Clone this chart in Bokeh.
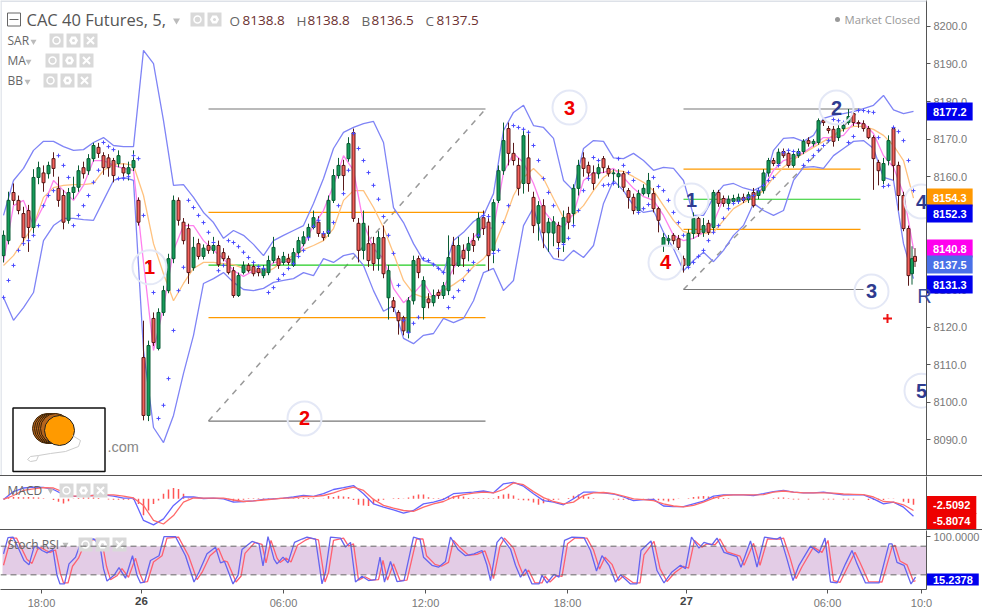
from bokeh.plotting import figure
from bokeh.layouts import column
from bokeh.models import Range1d, Label, FixedTicker, Spacer, Span, NumeralTickFormatter
from bokeh.embed import file_html
from bokeh.resources import INLINE

opens = [8139,8143,8155.8,8153.7,8150.2,8151,8146.5,8159.8,8161,8160.8,8164.8,8156.9,8155,8148.4,8155.8,8157.2,8162.4,8161.6,8164.8,8167.8,
 8165.6,8165,8164.3,8163.5,8162.4,8160.8,8162.4,8153.7,8111.9,8096.5,8122.3,8114.3,8123.9,8129.7,8138.2,8153.7,8147.9,8146.2,8135.8,8142.2,
 8138.8,8141.7,8140.4,8141.7,8139.8,8138.2,8135,8128.4,8134.5,8136.4,8136.1,8135.6,8133.7,8134.5,8137.7,8138.2,8137.2,8138.2,8136.4,8139.8,
 8142.2,8144,8146.5,8147.9,8144.9,8144.9,8153.7,8160.3,8163,8164.8,8171.7,8147.6,8140.4,8142.2,8142.2,8138.2,8143.8,8127.8,8127,8123.9,
 8122.5,8118.5,8127,8138.2,8125.2,8127.5,8126.5,8129.2,8128.4,8129.7,8141.7,8136.4,8140.4,8140.4,8143,8143.8,8149.1,8147.9,8140.4,8153.7,
 8161.6,8172.8,8166.2,8163,8158.2,8165,8154.5,8147.6,8152.3,8145.1,8145,8147,8142.5,8150.2,8150.2,8156.9,8165,8163,8161,8160.8,
 8164.8,8162.2,8160.8,8160,8160.8,8156.3,8154.5,8151,8155.5,8155.5,8155.5,8151.5,8141.7,8143,8144.4,8143.5,8138.2,8136.4,8144.9,8148.9,
 8145.2,8147.6,8146.5,8155.8,8154.2,8152.9,8153.4,8153.4,8154.5,8153.9,8155.8,8155,8156.3,8161,8164.3,8163.5,8166.7,8166.2,8163,8165.6,
 8166.7,8169.6,8168.8,8169.1,8174.9,8172.8,8172.6,8170.4,8172.8,8174.4,8176.8,8174.4,8174.1,8172.8,8170.4,8163.8,8159,8164.3,8172.8,8163,
 8155,8146.2,8134.2,8138.8]
closes = [8144.4,8153.7,8153.7,8151,8143.8,8146.5,8159.8,8162.4,8158.4,8163,8162.2,8153.7,8147.9,8155.8,8157.2,8161.6,8160.8,8164.8,8168.3,8166.2,
 8162.4,8162.4,8160.3,8165.6,8161,8162.4,8164.3,8147.9,8096.5,8115.1,8115.9,8123.9,8129.7,8138.2,8153.7,8148.4,8143,8134.5,8141.2,8138.8,
 8141,8140.4,8141.7,8136.6,8138.2,8134.5,8128.4,8133.7,8136.4,8135,8134.2,8134.5,8135.6,8137.7,8141.2,8136.4,8138.8,8137.2,8139.8,8143,
 8144,8146.5,8149.1,8144.9,8143.8,8153.7,8160.3,8163,8160.3,8168.8,8148.9,8140.4,8147.6,8137.7,8136.9,8143.8,8134.2,8135,8125.2,8121.7,
 8119,8127,8137.7,8134.5,8132.4,8126.5,8128.4,8128.4,8131,8138.5,8136.4,8141.7,8138.2,8142.2,8141.7,8148.9,8146.2,8139,8153.1,8161.6,
 8169.6,8166.2,8164.3,8156.9,8170.9,8158.2,8147,8152.3,8145.1,8147.9,8148,8142.5,8149.1,8147.9,8156.9,8163,8162.2,8161,8158.2,8162.4,
 8162.4,8160.8,8161,8160.8,8157.2,8154.5,8151,8155.5,8156.9,8159,8151.5,8148.4,8143.8,8143.5,8143,8141.2,8136.4,8144.9,8148.9,8144.9,
 8147,8145.2,8155.8,8152.9,8152.9,8154,8154.2,8154.5,8153.7,8155.2,8152.3,8156.3,8161,8164.3,8163.5,8166.5,8165.6,8163,8165.9,8166.7,
 8169.4,8168.8,8169.4,8174.9,8174.4,8172.3,8169.4,8172.8,8173.6,8176,8174.4,8174.1,8172.8,8170.4,8164.8,8161.6,8163.5,8169.6,8163,8155,
 8146.2,8133.7,8138.2,8137.5]
highs = [8145.7,8156,8158.2,8155,8152,8152.5,8162,8164,8163,8164,8166.5,8160,8156.5,8157,8160,8163,8164,8166,8169,8169,
 8166.5,8166,8165,8167,8163.5,8164,8167,8154.5,8121.7,8116.4,8123.9,8125,8131,8139.5,8155,8154.5,8149,8147.5,8144,8143.5,
 8142,8143,8144,8143,8141,8139,8136,8134.5,8137.5,8137,8137,8136.5,8136.5,8139,8144,8139,8140,8139.5,8141,8144,
 8145.5,8147.5,8151,8149.5,8145.5,8155,8162,8165,8164.5,8170.5,8172.8,8149,8151,8147,8144,8145.5,8147,8136.5,8128,8124.5,
 8123,8128,8139,8139,8133.5,8129,8130,8130,8132,8144.4,8144,8144,8142,8144,8145,8150.5,8151,8150,8154,8163,
 8174.4,8174.4,8169,8165,8172.3,8172,8156,8153.5,8154,8149,8149.5,8148,8151,8152,8158,8164.5,8166.5,8164,8163,8163.5,
 8165.5,8163,8162,8162,8161.5,8157,8155.5,8156.5,8158,8161,8157,8152,8145,8144.5,8145,8144.5,8139,8146,8150.5,8149.5,
 8149,8148.5,8156.5,8156.5,8155,8155,8155.2,8155.5,8155.5,8156,8157,8157,8162,8165,8165,8167.5,8167.5,8167,8167,8167.5,
 8170,8170.5,8170,8175.5,8175.5,8173.5,8173.5,8174,8174.5,8178,8178,8175,8175,8173.5,8171,8164.5,8165,8171,8173.5,8164,
 8156,8147,8141.5,8141]
lows = [8137.2,8142,8152.5,8150,8141.7,8140,8145,8158,8156,8159.5,8160,8152,8146,8147.5,8154,8156,8159.5,8160.5,8164,8165,
 8160.5,8160,8158.5,8162.5,8160,8159,8161.5,8147,8095.2,8095,8115,8113.8,8123,8129,8137,8147,8142,8131.5,8135,8138,
 8138,8139.5,8139.5,8136,8137.5,8134,8127.8,8128,8134,8134.5,8133.5,8133.5,8133,8133.8,8137,8135.5,8136.5,8136.5,8136,8139.2,
 8141.5,8143,8146,8144,8143,8144,8153,8159.5,8156.3,8164,8148,8137.2,8138,8136,8135,8135,8133,8122,8124,8118,
 8117.8,8117,8126,8133,8122,8125,8125.5,8127.5,8127.5,8128.5,8134,8136,8136,8137.5,8140,8143,8144.5,8135,8137,8153,
 8160.5,8163,8163,8155,8155.5,8156,8145,8143,8141,8140,8141.5,8138.5,8140,8146,8147,8155,8160,8159,8156.5,8159.5,
 8161,8160,8158,8157,8156,8151.5,8150,8150,8155,8154.5,8150.5,8145.2,8140,8141.5,8142,8140.5,8134.5,8135.5,8143.5,8144,
 8144,8144.5,8145.5,8152,8152,8152,8152.5,8152.8,8153,8153,8151.8,8154,8155.5,8160,8162.8,8163,8165,8162.4,8162.4,8165,
 8166,8168,8168,8168.5,8173.5,8171.5,8168,8169.5,8172,8173.8,8173.5,8173,8172,8170,8156.5,8157.7,8158,8163,8159,8151,
 8145.5,8131,8131.3,8136]
candle_x = [float(i) for i in range(182)] + [181.7, 182.3]

bb_upper = [8149.7,8159,8162.2,8167,8169.4,8169.4,8168,8167,8167.2,8169.1,8170.4,8168.3,8168,8168,8193.6,8190.1,8174.9,8157.7,8157.9,8154.5,
 8150.5,8147.8,8143.6,8145.7,8144.4,8142,8139,8143,8144.4,8145.7,8147,8152.9,8159.5,8167.5,8171.8,8173.1,8174.1,8174.7,8169.1,8151.8,
 8147.8,8142.2,8137.7,8136.9,8134.5,8143,8145.2,8148.1,8149.7,8155.5,8172.3,8177.1,8179,8173.6,8173.1,8170.2,8159,8156.3,8167.5,8169.6,
 8169.4,8165,8164.8,8166.2,8164.3,8161.7,8162.5,8162.2,8159,8149.7,8149.7,8154.5,8157.7,8158.2,8157,8156.3,8157.7,8167,8170.2,8170.4,
 8169.4,8171,8175.5,8176.3,8176.8,8177.3,8178.1,8179,8181.6,8177.8,8176.8,8177.4]
bb_lower = [8127.9,8121.8,8125.2,8129.2,8143,8147,8148.9,8148.9,8148.6,8148.4,8153.7,8159,8159.8,8159,8113.8,8093.3,8089.3,8096.5,8107.7,8117.8,
 8131.6,8132.9,8134.5,8131.9,8130,8129.7,8130.3,8131.9,8132.4,8132.9,8134.5,8133.7,8138.2,8137.2,8139,8139.6,8136.4,8129.7,8124.2,8125.7,
 8117,8115.6,8117.8,8118.3,8122.3,8121.2,8122.3,8127,8134.5,8135.6,8129.7,8132.4,8147,8151.8,8142.2,8138.2,8137.7,8140.4,8138.5,8141.7,
 8152.9,8159,8156.3,8152.3,8150.5,8151,8145.2,8140.9,8135,8137.7,8139.9,8137.4,8140.4,8144.4,8147,8152.9,8151,8149.7,8151,8159,
 8162.5,8162.7,8162.2,8165.6,8167.5,8169.4,8169.6,8167.5,8159.8,8159,8142.2,8132.9]
ma_fast = [8137.2,8152.3,8153.7,8147,8152.3,8159,8156.3,8153.7,8157.7,8164.3,8164.3,8163,8162.2,8161.7,8137.2,8113.8,8125.2,8140.4,8147,8147,
 8143,8140.4,8138.2,8135,8133.5,8135,8134.5,8137.2,8137.2,8138.2,8141.7,8147,8151,8157.7,8165.6,8161.7,8147.6,8140.9,8138.2,8130.3,
 8126.5,8128.9,8131.9,8127.6,8130.5,8135.6,8139.9,8143.8,8146.8,8146.2,8161.1,8166.2,8163.8,8158.2,8151,8147.8,8146.5,8150.2,8159,8161.1,
 8161.1,8162.2,8159.8,8156.9,8154.7,8153.7,8149.7,8144.4,8143,8143.6,8145.2,8147.8,8154.2,8153.7,8154.2,8155,8157.1,8161.7,8164.3,8165.1,
 8166.4,8168.3,8170.4,8170.4,8171,8174.2,8174.2,8171.5,8165.6,8162.5,8155.5,8140.8]
ma_slow = [8136.4,8139,8143,8147,8154.5,8157.1,8157.7,8157.9,8157.9,8158.2,8161.7,8163.3,8163.5,8163,8155,8142.2,8134.2,8127,8131.6,8135.6,
 8137.2,8137.2,8136.9,8136.6,8135.6,8135,8134.2,8135.6,8137.7,8139,8140.6,8141.7,8143,8146.2,8153.7,8156.3,8156.3,8151.8,8146.5,8139.6,
 8132.4,8128.9,8127.9,8128.1,8129.7,8131.3,8133.2,8136.1,8138.2,8141.2,8147.6,8155,8159.8,8162.2,8159.5,8154.2,8149.1,8149.7,8152.3,8156.3,
 8159.8,8161.7,8161.4,8160,8158.5,8156.3,8152.3,8148.4,8145.4,8144.9,8144.9,8145.2,8148.4,8151.5,8153.1,8154.5,8156.3,8159.8,8162.5,8164.6,
 8166.2,8167.8,8169.4,8171,8172.6,8173.4,8173.4,8172.6,8171,8168.3,8164.3,8154.3]
sar = [8127.9,8132.4,8136.4,8140.4,8142.2,8143,8144.4,8147,8152.3,8155,8156.3,8165.6,8163,8159.8,8147,8149.7,8152.3,8155,8158.5,8161.7,
 8169.1,8168,8167.2,8159.5,8159.5,8160,8165.6,8164.8,8149.7,8137.2,8129.2,8095.7,8099.2,8106.3,8119.1,8129.7,8135.9,8153.7,8151.8,8149.7,
 8147.8,8145.2,8142.5,8135,8136.4,8143,8142.5,8141.4,8139.9,8138.5,8137.2,8136.1,8135.6,8129.2,8130.5,8132.7,8134,8135.6,8136.9,8138.8,
 8140.4,8143.8,8146.8,8148.4,8144.9,8145.4,8147.8,8152.3,8155.5,8161.7,8171.5,8167.5,8164.3,8161.1,8157.7,8154,8149.4,8144.4,8139.6,8131.1,
 8121.8,8118.6,8121,8122.6,8138.2,8137.7,8136.6,8135.6,8134.5,8125.2,8127.9,8129.7,8132.4,8135,8137.2,8144.4,8149.7,8149.4,8139.6,8140.4,
 8147.8,8152.3,8173.6,8173.1,8172.6,8171.8,8168.3,8164.3,8159.5,8155.8,8152.3,8140.9,8142,8143.6,8147,8151,8156.3,8159.5,8165.1,8164.3,
 8157.7,8157.9,8158.2,8164.8,8163,8161.1,8159,8150.5,8151.5,8152.6,8159.8,8157.4,8156.3,8153.7,8150.5,8147.8,8144.4,8135.9,8137.2,8138.8,
 8140.4,8143,8145.2,8147,8148.9,8151.5,8152.9,8153.4,8154,8154.5,8155,8156.3,8157.7,8159,8159.8,8163,8166.4,8167,8166.7,8166.4,
 8163,8164.3,8165.6,8167,8168.3,8169.6,8175.2,8174.9,8174.4,8169.1,8170.7,8177.6,8177.6,8177.3,8177.1,8170.4,8157.4,8157.7,8173.1,8172,
 8169.6,8164.3,8156.3]

macd_line = [-0.2,2.4,3.6,3.9,3.8,3.1,1.4,0.8,0.9,1.1,1.3,0.9,0.2,0.2,-7.2,-8.7,-6.7,-2.2,0.6,0.6,
 0.1,0.2,0,-1.1,-0.9,-0.7,-0.2,0,0.2,0.6,1.1,0.8,1.7,3.1,3.7,4.4,1.7,-1.7,-2.8,-3.7,
 -4.8,-3.9,-1.7,-1.1,-0.2,1.7,2,2.2,2.6,
 2,5,5.5,4.2,1.7,-0.6,-1.1,-2,0,2.2,2.2,2,1.6,0.6,-0.6,-0.3,-0.2,-2.4,-2.6,-2.6,-1.7,-0.8,0.9,1.3,1.3,1.3,1.1,1.7,2.4,2.8,2.2,2,2,2.2,1.7,1.3,1.4,1.3,0,-1.7,-1.1,-2.8,-5.8]
macd_signal = [-0.2,1.1,2.8,3.3,3.7,3.6,2.2,0.9,0.9,1.1,1.3,1.3,0.9,0.3,-2.2,-7.2,-8.4,-5.6,-1.1,0.3,
 0.2,0.2,0.2,-0.4,-0.9,-0.7,-0.4,-0.1,0.2,0.3,0.8,0.7,1.1,2,3.1,3.9,2.8,-0.2,-2.2,-3.1,
 -3.9,-4.2,-2.8,-1.7,-0.9,0.6,1.4,1.9,2.2,
 2,3.1,5.3,4.7,2.4,0.4,-0.9,-1.7,-1.1,1.1,2,2.1,1.7,0.9,0,-0.3,-0.6,-1.7,-2.4,-2.7,-2.2,-1.1,0.2,1.1,1.3,1.3,1.3,1.4,2.2,2.6,2.2,2,2,2,1.9,1.6,1.5,1.4,0.6,-0.9,-1.1,-2,-3.9]
macd_hist = [0.1,0.5,0.6,0.6,0.5,0.6,0.5,0.4,0.2,0,-0.4,-1,-1.6,-0.8,-0.1,0.3,0.4,0.4,0.4,0.3,
 0,-0.2,-0.3,-0.3,-0.3,-0.3,-0.4,-1.7,-5.5,-3.9,-1.7,-0.6,1.7,3.1,3.6,3.3,1.7,0.2,0,0.1,
 0,0.1,0,0,0,-0.2,-0.9,-0.9,-0.3,0.2,0.2,0.2,0.2,0.2,0.2,0.2,0.2,0.2,0.2,0.3,
 0.3,0.3,0.2,0,0.1,0.9,0.6,1,0.8,0.6,-0.4,-2,-2.2,-2.4,-1.8,-0.7,-0.3,0,0.2,0.3,
 0.1,0.4,1,1.4,1.4,0.5,0.2,0.2,0.3,0.7,0.9,0.9,0.8,0.3,0.2,0.2,0.2,0.2,0.2,0.9,
 1.4,1.7,1.1,-0.3,-0.5,-0.6,-1.2,-2,-1.5,-0.8,-0.4,-0.2,0,0.3,1,1.4,1.2,0.7,0.2,0,
 0,0,-0.2,-0.3,-0.3,-0.3,-0.1,0,0.1,0.1,0.2,-0.5,-0.6,-0.9,-0.5,-0.1,0,0.2,0.6,0.8,
 0.9,0.8,0.6,0.4,0.3,0.2,0,0,0,0,0,0,0,0,0.2,0.4,0.4,0.2,-0.2,-0.2,
 0,-0.2,0,0,-0.2,-0.2,-0.2,0,-0.2,-0.2,-0.2,0,0,-0.4,-0.4,-0.5,-0.4,-0.1,0.1,0,
 -1,-1.4,-2]

stoch_k_x = [0,.9,1.9,2.9,4.1,5.1,6.1,6.7,7.7,8.7,9.9,10.7,11.3,12.2,13.1,14.4,15.7,18.1,19.3,20,20.7,22.1,23.1,24.4,25.8,26.7,27.4,28.2,29.4,31.1,
 32.1,34.4,36.4,38.1,39.1,40.7,42.4,43.4,44.2,45.9,46.9,47.7,49.7,51.1,51.9,52.9,54.1,54.7,55.9,56.9,58.2,59.7,60.7,62.4,63.7,64.4,65.4,67.4,68.4,69.4,
 70.4,71.7,73,74.4,75.3,76.2,77.4,78.7,80.1,82,83.3,84,85.7,87,88.4,89.4,90.9,92.4,94.1,95.7,96.7,
 97.4,98.7,99.6,101.4,102.4,103.4,104.4,105.7,107.1,107.7,108.7,110.1,111.1,112.2,113.7,116.1,117.4,118.6,119.7,121.1,122.4,123.4,125.4,126.7,127.5,129.5,130.7,132.1,133.7,135.4,
 136.4,137.6,139.1,140.1,141.7,142.7,144.1,146.7,147.5,149.4,150.7,152.2,154.7,155.4,156.7,157.9,159.1,161.4,163.1,164.3,165.4,166.7,168.4,169.7,170.7,172.4,175.1,177.1,177.7,178.7,180.1,181.5,182.4]
stoch_k = [64,98,99,78,50,41,78,80,71,66,73,19,1,1,43,57,94,95,81,33,7,19,35,13,60,19,3,5,50,60,
 100,100,60,5,26,64,78,45,48,1,19,73,90,85,39,100,53,43,57,45,88,95,99,95,1,26,99,97,78,88,
 5,17,8,10,57,5,48,6,8,99,95,57,40,36,48,99,73,60,64,71,40,
 8,88,99,74,40,15,32,1,1,19,3,21,15,92,99,98,71,28,60,40,5,20,1,1,71,91,29,3,26,40,
 33,99,76,88,83,97,67,58,36,91,36,99,95,99,53,8,40,80,66,97,5,3,43,71,43,3,3,85,85,46,40,1,15.2]
stoch_d_x = [0,1.5,2.6,3.5,4.7,5.7,6.8,7.5,8.5,9.3,10.4,11.4,12,12.9,13.8,15,16.4,18.7,19.9,20.6,21.4,22.7,23.7,25,26.4,27.3,28,28.8,30,31.7,
 32.7,35,37,38.7,39.7,41.3,43,44,44.8,46.5,47.5,48.3,50.3,51.7,52.5,53.5,54.7,55.3,56.5,57.5,58.8,60.3,61.3,63,64.3,65,66,68,69,70,
 71,72.3,73.6,75,75.9,76.8,78,79.3,80.7,82.6,83.9,84.6,86.3,87.6,89,90,91.5,93,94.7,96.3,97.3,
 98,99.3,100.2,102,103,104,105,106.3,107.7,108.3,109.3,110.7,111.7,112.8,114.3,116.7,118,119.2,120.3,121.7,123,124,126,127.3,128.1,130.1,131.3,132.7,134.3,136,
 137,138.2,139.7,140.7,142.3,143.3,144.7,147.3,148.1,150,151.3,152.8,155.3,156,157.3,158.5,159.7,162,163.7,164.9,166,167.3,169,170.3,171.3,173,175.7,177.7,178.3,179.3,180.7,182,182.4]
stoch_d = [40,97,97,78,52,44,73,77,71,67,72,22,3,3,38,55,90,95,78,38,10,18,33,15,55,22,5,6,47,60,
 97,99,60,10,25,60,75,50,47,5,17,65,88,84,45,92,55,46,55,47,82,92,97,93,5,25,92,97,80,85,
 9,16,9,10,50,9,43,8,9,95,95,60,42,38,46,92,75,61,63,70,40,
 12,80,97,76,44,18,30,3,3,17,5,19,17,85,97,97,72,32,57,42,8,18,3,3,62,90,33,6,25,38,
 34,92,78,85,83,95,68,59,40,86,40,95,95,97,56,12,37,78,67,92,8,4,40,67,46,6,5,78,82,49,41,6,8]

x_ticks = [7.6, 27.6, 56, 84.4, 112.8, 136.6, 164.8, 183.6]
x_labels = ["18:00", "", "06:00", "12:00", "18:00", "", "06:00", "10:0"]
price_ticks = [8090,8100,8110,8120,8130,8140,8150,8160,8170,8180,8190,8200]

wave_red_x = [29.2, 60.2, 113.2, 132.4]
wave_red_y = [8135.9, 8095.7, 8178.4, 8137.2]
wave_red_t = ["1", "2", "3", "4"]
wave_blue_x = [137.6, 166.6, 173.6, 183.6, 183.6]
wave_blue_y = [8153.7, 8178.4, 8129.5, 8153.4, 8103.1]
wave_blue_t = ["1", "2", "3", "4", "5"]

main_y = lambda y: 8200 - (y - 25.8) / 3.76
macd_y = lambda y: (498.3 - y) / 3
st_y = lambda y: (326.7 - (y - 475) * 3) / 1.433
ix = lambda px: (px - 3) / 5

grid2 = [2 * i for i in range(92)]
FONT = "Liberation Sans"
OPEN = "Open Sans"
GREY = "#555555"


def make(h, fh, ylo, yhi, xr):
    p = figure(width=982, height=h, frame_width=926, frame_height=fh, x_range=xr,
               y_range=Range1d(ylo, yhi), toolbar_location=None, output_backend="svg",
               y_axis_location="right", min_border_left=0, min_border_right=56,
               min_border_top=0, min_border_bottom=0, outline_line_color=None,
               background_fill_color="white", border_fill_color="white")
    p.grid.visible = False
    p.yaxis.axis_line_color = GREY
    p.yaxis.major_tick_line_color = GREY
    p.yaxis.minor_tick_line_color = None
    p.yaxis.major_tick_out = 4
    p.yaxis.major_tick_in = 0
    p.yaxis.major_label_text_font = FONT
    p.yaxis.major_label_text_font_size = "11px"
    p.yaxis.major_label_text_color = "#777777"
    p.yaxis.major_label_standoff = 3
    p.xaxis.visible = False
    return p


def text(p, x, y, s, color="#666666", size="12px", font=OPEN, style="normal", align="left", side="center"):
    p.add_layout(Label(x=x, y=y, text=s, text_color=color, text_font=font, text_font_size=size,
                       text_font_style=style, text_baseline="middle", text_align=align), side)


def tag(p, x, y, s, bg, pad=6, vpad=5):
    p.add_layout(Label(x=x, y=y, text=s, text_color="white", text_font=FONT, text_font_size="11px",
                       text_font_style="bold", text_baseline="middle", text_align="left",
                       background_fill_color=bg, padding=(pad, vpad)), "right")


def icons(p, fy, xs, y):
    xv = [ix(a) for a in xs]
    yv = [fy(y)] * len(xs)
    p.scatter(xv, yv, marker="square", size=14, fill_color="#d9d9d9", line_color=None)
    p.scatter([xv[0]], [yv[0]], marker="circle", size=7, fill_color="#d9d9d9", line_color="white", line_width=1.5)
    p.scatter([xv[1]], [yv[1]], marker="hex", size=9, fill_color="white", line_color=None)
    p.scatter([xv[1]], [yv[1]], marker="circle", size=3, fill_color="#d9d9d9", line_color=None)
    if len(xs) > 2:
        p.scatter([xv[2]], [yv[2]], marker="x", size=10, line_color="white", line_width=2)


xr = Range1d(ix(0), ix(926))

# main price panel
p1 = make(475, 475, main_y(475), main_y(0), xr)
p1.yaxis.ticker = FixedTicker(ticks=price_ticks)
p1.yaxis.formatter = NumeralTickFormatter(format="0.0")
p1.add_layout(Span(location=main_y(0.5), dimension="width", line_color="#dde1e8", line_width=2))
p1.add_layout(Span(location=ix(0.5), dimension="height", line_color="#dde1e8", line_width=1.5))

# drawing tools
p1.line([41, 96.4], [8095, 8178], line_color="#999999", line_width=1.5, line_dash="6 6")
p1.line([136, 171.4], [8130, 8178], line_color="#999999", line_width=1.5, line_dash="6 6")
for (x0, x1, yy, c) in [(41, 96.4, 8178, "#777777"), (41, 96.4, 8095, "#777777"),
                        (41, 96.4, 8150.5, "#ff9a00"), (41, 96.4, 8122.5, "#ff9a00"),
                        (41, 96.4, 8136.5, "#22cc22"),
                        (136, 171.4, 8178, "#777777"), (136, 172, 8130, "#777777"),
                        (136, 171.4, 8162, "#ff9a00"), (136, 171.4, 8146, "#ff9a00"),
                        (136, 171.4, 8154, "#22cc22")]:
    p1.line([x0, x1], [yy, yy], line_color=c, line_width=1.2)

# bands and averages
p1.line(grid2, bb_upper, line_color="#7f84f6", line_width=1.3)
p1.line(grid2, bb_lower, line_color="#7f84f6", line_width=1.3)
p1.line(grid2, ma_slow, line_color="#ffc27f", line_width=1.3)
p1.line(grid2, ma_fast, line_color="#ff80ee", line_width=1.3)

# candles
up = [c >= o for o, c in zip(opens, closes)]
body = ["#169c5a" if u else "#f4605a" for u in up]
edge = ["#0b5c34" if u else "#5a1a1a" for u in up]
p1.segment(candle_x, lows, candle_x, highs, line_color=edge, line_width=1)
p1.vbar(candle_x, 0.6, [min(a, b) for a, b in zip(opens, closes)],
        [max(a, b) for a, b in zip(opens, closes)], fill_color=body, line_color=edge, line_width=1)

p1.scatter(list(range(len(sar))), sar, marker="cross", size=4, line_color="#4a4aff", line_width=1)

# wave labels
allx = wave_red_x + wave_blue_x
ally = wave_red_y + wave_blue_y
p1.scatter(allx, ally, marker="circle", size=34, fill_color=None, line_color="#e4e8f6", line_width=2)
for x, y, t in zip(wave_red_x, wave_red_y, wave_red_t):
    text(p1, x, y, t, color="#f00000", size="20px", font=FONT, style="bold", align="center")
p1.scatter([176.8], [8122.3], marker="cross", size=9, line_color="#ee1111", line_width=2)

# header
p1.scatter([ix(13.5)], [main_y(19)], marker="square", size=13, fill_color=None, line_color="#666666", line_width=1)
p1.scatter([ix(13.5)], [main_y(19)], marker="dash", size=9, line_color="#666666", line_width=1)
text(p1, ix(26), main_y(19), "CAC 40 Futures, 5,", size="16.5px", color="#555555")
p1.scatter([ix(176)], [main_y(20)], marker="inverted_triangle", size=7, fill_color="#bbbbbb", line_color=None)
icons(p1, main_y, [197, 214], 19)
ohlc = [("O", "8138.8", 229, 242), ("H", "8138.8", 296, 307), ("B", "8136.5", 361, 371), ("C", "8137.5", 425, 436)]
for k, v, a, b in ohlc:
    text(p1, ix(a), main_y(20), k, size="13.5px", color="#666666")
    text(p1, ix(b), main_y(20), v, size="13.5px", color="#6b3030")
p1.scatter([ix(837)], [main_y(19)], marker="circle", size=5, fill_color="#999999", line_color=None)
text(p1, ix(844), main_y(19), "Market Closed", size="11.3px", color="#999999")
for s, y, cx, ic in [("SAR", 40, 33, [56, 73, 90]), ("MA", 60, 28, [52, 69, 86]), ("BB", 80, 27, [50, 67, 84])]:
    text(p1, ix(7), main_y(y), s, size="12px", color="#666666")
    p1.scatter([ix(cx)], [main_y(y + 1)], marker="inverted_triangle", size=6, fill_color="#bbbbbb", line_color=None)
    icons(p1, main_y, ic, y)

# logo
p1.quad(left=[ix(12.5)], right=[ix(104.5)], top=[main_y(407.5)], bottom=[main_y(471)], fill_color="white",
        line_color="#111111", line_width=1.5)
for a in (47, 49, 51, 53, 55):
    p1.scatter([ix(a)], [main_y(428)], marker="circle", size=30, fill_color="#b5651d", line_color="#3a2208", line_width=1)
p1.scatter([ix(59)], [main_y(430)], marker="circle", size=30, fill_color="#ff9a00", line_color="#222222", line_width=1)
p1.line([ix(x) for x in (72, 80, 78, 65, 50, 38, 30, 27, 30, 36, 38)],
        [main_y(y) for y in (435, 440, 446, 451, 453, 455, 456, 459, 461, 460, 455)],
        line_color="#cccccc", line_width=1)
text(p1, ix(107), main_y(446), ".com", size="14.5px", color="#888888", font=FONT)

# price tags
for s, y, c in [("8177.2", 111, "#0000ee"), ("8154.3", 197, "#ff9800"), ("8152.3", 213, "#0000ee"),
                ("8140.8", 248, "#ff00ee"), ("8137.5", 264, "#4a70e8"), ("8131.3", 284, "#0000ee")]:
    tag(p1, ix(926.5), main_y(y), s, c)
for x, y, t in zip(wave_blue_x, wave_blue_y, wave_blue_t):
    text(p1, x, y, t, color="#2f3b8f", size="20px", font=FONT, style="bold", align="center", side="right")
text(p1, 184.2, 8128.4, "R", color="#3a4a9a", size="20px", font=FONT, align="center", side="right")

# MACD panel
p2 = make(53, 53, macd_y(529), macd_y(476), xr)
p2.yaxis.ticker = FixedTicker(ticks=[])
p2.vbar(list(range(len(macd_hist))), 0.3, [0] * len(macd_hist), macd_hist, fill_color="#ff5555", line_color=None)
p2.line(grid2[:len(macd_line)], macd_line, line_color="#6464ff", line_width=1.3)
p2.line(grid2[:len(macd_signal)], macd_signal, line_color="#ff6a6a", line_width=1.3)
text(p2, ix(7), macd_y(490), "MACD", size="12px", color="#666666")
p2.scatter([ix(50)], [macd_y(490)], marker="inverted_triangle", size=6, fill_color="#bbbbbb", line_color=None)
icons(p2, macd_y, [66, 83, 100], 490)
tag(p2, ix(926.5), macd_y(504.5), "-2.5092", "#ee0000", pad=6, vpad=5)
tag(p2, ix(926.5), macd_y(520.5), "-5.8074", "#ee0000", pad=6, vpad=4)

# Stoch RSI panel
p3 = make(79, 59, st_y(589), st_y(530), xr)
p3.yaxis.ticker = FixedTicker(ticks=[100])
p3.yaxis.formatter = NumeralTickFormatter(format="0.0000")
p3.quad(left=[ix(2)], right=[ix(926)], top=[80], bottom=[20], fill_color="#e3cce6", line_color=None)
p3.add_layout(Span(location=80, dimension="width", line_color="#666666", line_dash="6 4", line_width=1))
p3.add_layout(Span(location=20, dimension="width", line_color="#666666", line_dash="6 4", line_width=1))
p3.line(stoch_d_x, stoch_d, line_color="#ff6070", line_width=1.3)
p3.line(stoch_k_x, stoch_k, line_color="#6464f0", line_width=1.3)
text(p3, ix(7), st_y(544), "Stoch RSI", size="12px", color="#666666")
p3.scatter([ix(65)], [st_y(544)], marker="inverted_triangle", size=6, fill_color="#bbbbbb", line_color=None)
icons(p3, st_y, [85, 102, 119], 544)
tag(p3, ix(926.5), st_y(579), "15.2378", "#0000ee", pad=6, vpad=2)

p3.xaxis.visible = True
p3.xaxis.ticker = FixedTicker(ticks=x_ticks)
p3.xaxis.major_label_overrides = {t: l for t, l in zip(x_ticks, x_labels)}
p3.xaxis.axis_line_color = GREY
p3.xaxis.major_tick_line_color = GREY
p3.xaxis.major_tick_out = 4
p3.xaxis.major_tick_in = 0
p3.xaxis.minor_tick_line_color = None
p3.xaxis.major_label_text_font = FONT
p3.xaxis.major_label_text_font_size = "11px"
p3.xaxis.major_label_text_color = "#777777"
p3.xaxis.major_label_standoff = 3
text(p3, x_ticks[1], st_y(600), "26", size="11.5px", color="#444444", font=FONT, style="bold", align="center", side="below")
text(p3, x_ticks[5], st_y(600), "27", size="11.5px", color="#444444", font=FONT, style="bold", align="center", side="below")

sep = lambda: Spacer(width=982, height=1, styles={"background": GREY})
page = column(p1, sep(), p2, sep(), p3, spacing=0)
open("out.html", "w").write(file_html(page, INLINE))
